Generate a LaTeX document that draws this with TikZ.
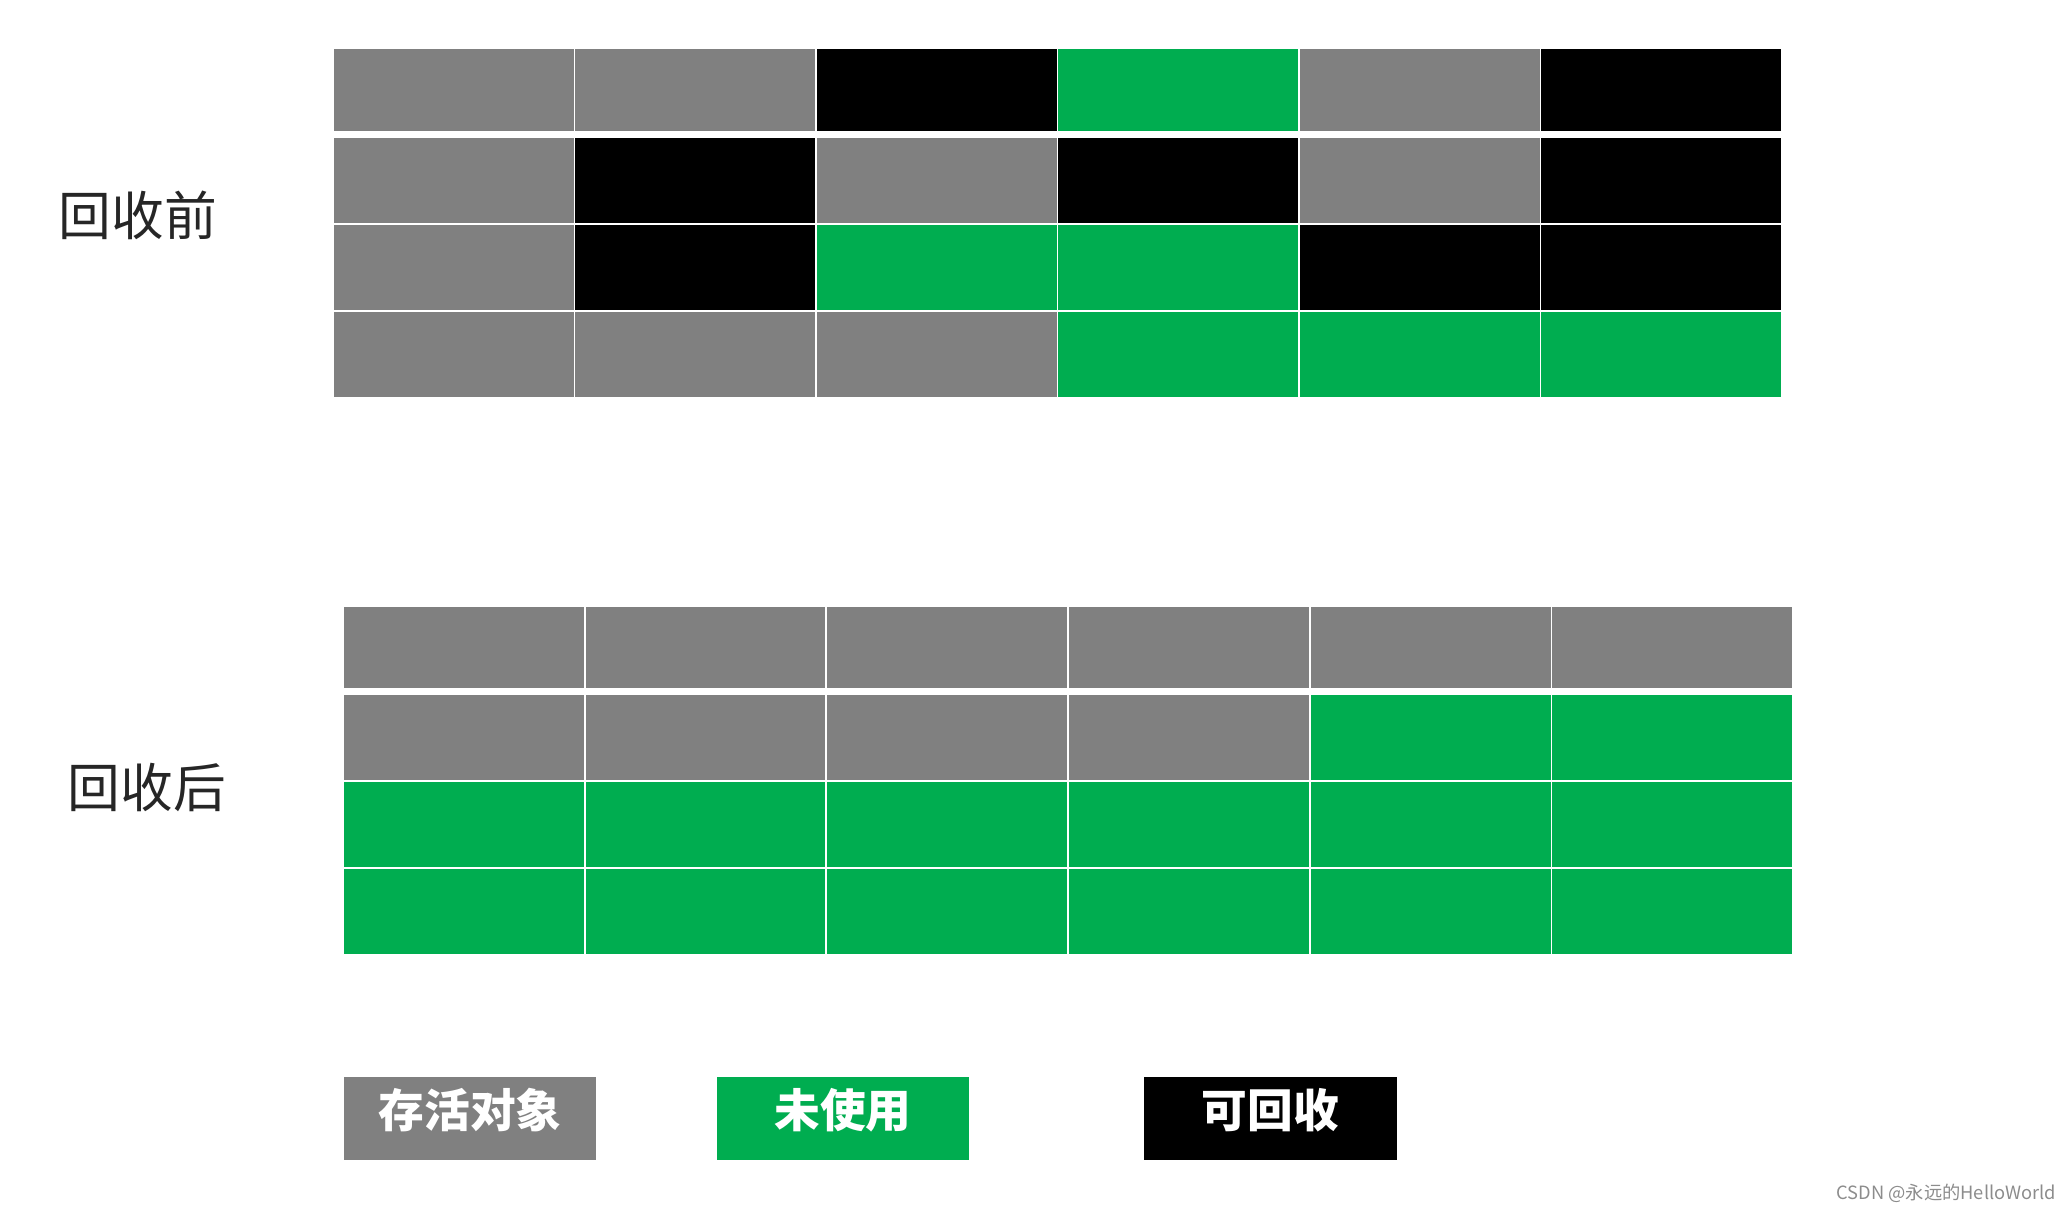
\documentclass[tikz,border=0pt]{standalone}
\usepackage{fontspec}
\newfontfamily\cjk{Noto Sans CJK SC}
\definecolor{live}{RGB}{128,128,128}
\definecolor{free}{RGB}{0,173,80}
\definecolor{dead}{RGB}{0,0,0}
\tikzset{
  cell/.style={draw=white,line width=0.5pt,minimum width=2.415cm,minimum height=0.87cm,inner sep=0pt},
  tag/.style={minimum width=2.52cm,minimum height=0.83cm,inner sep=0pt,text depth=6pt,text=white,font=\cjk\bfseries\fontsize{13}{13}\selectfont},
  side/.style={text=black!85,font=\cjk\fontsize{15}{15}\selectfont}
}

\begin{document}
\begin{tikzpicture}[x=0.01cm,y=-0.01cm]
    \useasboundingbox (0,0) rectangle (2072,1212);
    % before collection
    \foreach \c [count=\i] in {live,live,dead,free,live,dead}
      \node[cell,fill=\c,minimum height=0.84cm] (pre-1-\i) at ({333+241.5*(\i-0.5)},90) {};
    \foreach \c [count=\i] in {live,dead,live,dead,live,dead}
      \node[cell,fill=\c] (pre-2-\i) at ({333+241.5*(\i-0.5)},180.5) {};
    \foreach \c [count=\i] in {live,dead,free,free,dead,dead}
      \node[cell,fill=\c] (pre-3-\i) at ({333+241.5*(\i-0.5)},267.5) {};
    \foreach \c [count=\i] in {live,live,live,free,free,free}
      \node[cell,fill=\c] (pre-4-\i) at ({333+241.5*(\i-0.5)},354.5) {};
    \node[side] (pre) at (138,215) {回收前};
    % after collection
    \foreach \c [count=\i] in {live,live,live,live,live,live}
      \node[cell,fill=\c,minimum height=0.83cm] (post-1-\i) at ({343+241.7*(\i-0.5)},647.5) {};
    \foreach \c [count=\i] in {live,live,live,live,free,free}
      \node[cell,fill=\c] (post-2-\i) at ({343+241.7*(\i-0.5)},737.5) {};
    \foreach \c [count=\i] in {free,free,free,free,free,free}
      \node[cell,fill=\c] (post-3-\i) at ({343+241.7*(\i-0.5)},824.5) {};
    \foreach \c [count=\i] in {free,free,free,free,free,free}
      \node[cell,fill=\c] (post-4-\i) at ({343+241.7*(\i-0.5)},911.5) {};
    \node[side] (post) at (147,788) {回收后};
    % legend
    \node[tag,fill=live] (key-live) at (470,1118.5) {存活对象};
    \node[tag,fill=free] (key-free) at (843,1118.5) {未使用};
    \node[tag,fill=dead] (key-dead) at (1270.5,1118.5) {可回收};
    \node[anchor=east,inner sep=0pt,text=black!45,font=\cjk\fontsize{5.2}{6}\selectfont] (mark) at (2057,1193) {CSDN @永远的HelloWorld};
\end{tikzpicture}
\end{document}
